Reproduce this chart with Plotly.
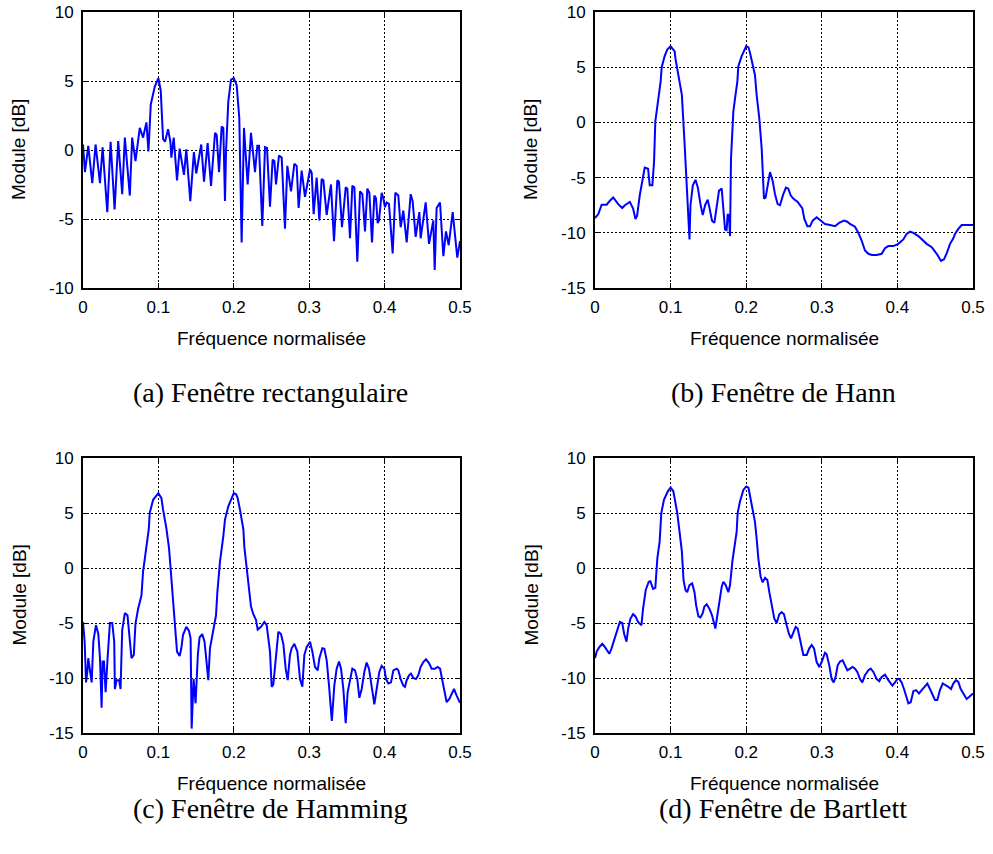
import plotly.graph_objects as go

# ---------------- data (normalised frequency, magnitude in dB) ----------------
freq_a = [0.0, 0.0026, 0.0070, 0.0123, 0.0167, 0.0225, 0.0260, 0.0322, 0.0366, 0.0419,
          0.0467, 0.0520, 0.0555, 0.0621, 0.0652, 0.0696, 0.0753, 0.0797, 0.0841, 0.0868,
          0.0899, 0.0952, 0.1000, 0.1031, 0.1062, 0.1088, 0.1128, 0.1159, 0.1172, 0.1203,
          0.1247, 0.1282, 0.1339, 0.1370, 0.1423, 0.1471, 0.1502, 0.1568, 0.1605, 0.1653,
          0.1698, 0.1751, 0.1773, 0.1804, 0.1839, 0.1861, 0.1883, 0.1897, 0.1927, 0.1963,
          0.2000, 0.2038, 0.2073, 0.2104, 0.2135, 0.2184, 0.2228, 0.2281, 0.2312, 0.2334,
          0.2378, 0.2414, 0.2440, 0.2480, 0.2515, 0.2538, 0.2560, 0.2599, 0.2635, 0.2679,
          0.2710, 0.2759, 0.2803, 0.2834, 0.2860, 0.2900, 0.2944, 0.3011, 0.3033, 0.3059,
          0.3099, 0.3135, 0.3165, 0.3188, 0.3232, 0.3289, 0.3329, 0.3373, 0.3395, 0.3435,
          0.3484, 0.3506, 0.3541, 0.3572, 0.3599, 0.3638, 0.3674, 0.3705, 0.3740, 0.3771,
          0.3798, 0.3833, 0.3864, 0.3886, 0.3908, 0.3926, 0.3961, 0.3983, 0.4005, 0.4027,
          0.4058, 0.4107, 0.4142, 0.4182, 0.4213, 0.4248, 0.4293, 0.4346, 0.4372, 0.4412,
          0.4461, 0.4478, 0.4545, 0.4589, 0.4646, 0.4664, 0.4690, 0.4735, 0.4779, 0.4814,
          0.4850, 0.4903, 0.4964, 0.5000]
db_a = [0.4, -1.6, 0.3, -2.4, 0.4, -2.4, 0.2, -4.5, 0.6, -4.3,
        0.65, -3.2, 0.9, -3.3, 0.9, -0.8, 1.6, 0.9, 2.0, -0.1,
        3.3, 4.6, 5.2, 4.3, 0.8, 0.6, 1.5, 0.6, -0.55, 0.9,
        -2.2, 0.1, -1.8, 0.05, -3.7, -0.15, -1.7, 0.4, -2.3, 0.5,
        -2.6, 1.25, 1.1, -1.6, 1.7, 1.6, -3.7, -0.1, 3.5, 5.1,
        5.2, 4.7, 2.3, -6.7, 1.6, -2.5, 1.25, -1.6, 0.3, 0.3,
        -5.5, 0.2, 0.15, -4.1, -0.7, -0.8, -2.5, -0.4, -0.55, -5.7,
        -1.15, -3.0, -1.0, -1.15, -4.2, -1.5, -3.4, -1.4, -1.65, -4.65,
        -2.0, -5.1, -2.1, -2.2, -4.7, -2.5, -6.6, -2.2, -2.3, -5.6,
        -2.7, -2.8, -6.4, -2.6, -2.7, -8.1, -3.0, -3.2, -5.9, -2.8,
        -3.1, -6.7, -3.3, -3.5, -5.3, -5.1, -3.1, -3.5, -4.15, -3.8,
        -3.9, -7.5, -3.1, -3.3, -5.6, -4.4, -6.7, -3.2, -3.7, -6.3,
        -4.5, -6.4, -3.8, -6.8, -5.1, -8.7, -4.2, -3.8, -7.7, -5.9,
        -6.9, -4.5, -7.8, -6.6]

freq_b = [0.0, 0.0044, 0.0088, 0.0154, 0.0197, 0.0241, 0.0263, 0.0307, 0.0360, 0.0395,
          0.0461, 0.0504, 0.0535, 0.0557, 0.0592, 0.0636, 0.0658, 0.0702, 0.0724, 0.0759,
          0.0781, 0.0798, 0.0833, 0.0868, 0.0882, 0.0921, 0.0956, 0.1000, 0.1022, 0.1053,
          0.1066, 0.1096, 0.1149, 0.1184, 0.1215, 0.1237, 0.1250, 0.1263, 0.1294, 0.1329,
          0.1360, 0.1395, 0.1425, 0.1456, 0.1491, 0.1513, 0.1548, 0.1579, 0.1609, 0.1640,
          0.1676, 0.1698, 0.1720, 0.1741, 0.1755, 0.1772, 0.1786, 0.1799, 0.1830, 0.1861,
          0.1883, 0.1896, 0.1940, 0.2000, 0.2030, 0.2050, 0.2072, 0.2116, 0.2138, 0.2173,
          0.2205, 0.2235, 0.2257, 0.2293, 0.2315, 0.2350, 0.2381, 0.2416, 0.2447, 0.2491,
          0.2526, 0.2557, 0.2588, 0.2623, 0.2681, 0.2743, 0.2769, 0.2809, 0.2844, 0.2879,
          0.2932, 0.2989, 0.3042, 0.3108, 0.3175, 0.3228, 0.3294, 0.3337, 0.3373, 0.3439,
          0.3483, 0.3527, 0.3571, 0.3616, 0.3660, 0.3726, 0.3792, 0.3836, 0.3880, 0.3946,
          0.4012, 0.4078, 0.4122, 0.4167, 0.4211, 0.4277, 0.4321, 0.4387, 0.4454, 0.4520,
          0.4577, 0.4616, 0.4656, 0.4696, 0.4740, 0.4762, 0.4806, 0.4850, 0.4916, 0.5000]
db_b = [-8.66, -8.3, -7.45, -7.45, -7.1, -6.8, -7.0, -7.4, -7.75, -7.5,
        -7.2, -7.8, -8.75, -8.45, -6.6, -4.65, -4.1, -4.2, -5.7, -5.7,
        -3.6, 0.1, 1.9, 3.7, 5.0, 6.0, 6.6, 6.9, 6.7, 6.45,
        5.7, 4.5, 2.5, -1.8, -6.0, -8.75, -10.6, -7.5, -5.7, -5.2,
        -5.9, -7.4, -8.4, -7.5, -7.0, -7.7, -8.9, -9.1, -7.5, -6.2,
        -6.0, -8.1, -9.7, -9.75, -8.3, -8.45, -10.3, -3.3, 1.0, 2.6,
        3.7, 5.1, 6.0, 6.9, 6.8, 6.3, 5.7, 4.3, 2.5, 0.4,
        -2.4, -6.9, -6.8, -5.4, -4.5, -5.3, -6.5, -7.4, -7.5, -6.5,
        -5.9, -6.0, -6.6, -6.9, -7.2, -7.8, -8.75, -9.4, -9.4, -8.9,
        -8.6, -8.9, -9.2, -9.3, -9.4, -9.1, -8.9, -9.0, -9.2, -9.45,
        -10.0, -10.7, -11.6, -11.9, -12.0, -12.0, -11.9, -11.4, -11.2, -11.2,
        -11.0, -10.6, -10.1, -9.9, -10.0, -10.3, -10.6, -11.0, -11.3, -11.9,
        -12.55, -12.4, -11.8, -11.0, -10.5, -10.1, -9.65, -9.3, -9.3, -9.3]

freq_c = [0.0, 0.0022, 0.0040, 0.0057, 0.0070, 0.0084, 0.0101, 0.0115, 0.0137, 0.0172,
          0.0203, 0.0225, 0.0247, 0.0260, 0.0278, 0.0300, 0.0326, 0.0357, 0.0388, 0.0414,
          0.0423, 0.0445, 0.0480, 0.0498, 0.0520, 0.0555, 0.0590, 0.0621, 0.0643, 0.0674,
          0.0696, 0.0731, 0.0775, 0.0797, 0.0833, 0.0872, 0.0885, 0.0930, 0.1000, 0.1040,
          0.1062, 0.1106, 0.1141, 0.1172, 0.1216, 0.1247, 0.1282, 0.1304, 0.1326, 0.1370,
          0.1405, 0.1427, 0.1441, 0.1467, 0.1493, 0.1524, 0.1546, 0.1581, 0.1612, 0.1640,
          0.1662, 0.1684, 0.1715, 0.1764, 0.1782, 0.1817, 0.1861, 0.1883, 0.1927, 0.2000,
          0.2030, 0.2051, 0.2082, 0.2127, 0.2140, 0.2184, 0.2228, 0.2259, 0.2294, 0.2317,
          0.2361, 0.2405, 0.2436, 0.2480, 0.2502, 0.2524, 0.2555, 0.2591, 0.2626, 0.2657,
          0.2688, 0.2715, 0.2745, 0.2767, 0.2803, 0.2843, 0.2878, 0.2909, 0.2936, 0.2966,
          0.3011, 0.3042, 0.3077, 0.3113, 0.3135, 0.3174, 0.3201, 0.3232, 0.3263, 0.3300,
          0.3333, 0.3364, 0.3395, 0.3422, 0.3453, 0.3484, 0.3510, 0.3541, 0.3572, 0.3607,
          0.3638, 0.3665, 0.3696, 0.3731, 0.3762, 0.3793, 0.3828, 0.3864, 0.3895, 0.3930,
          0.3961, 0.3997, 0.4019, 0.4050, 0.4085, 0.4116, 0.4160, 0.4182, 0.4213, 0.4248,
          0.4270, 0.4293, 0.4324, 0.4350, 0.4381, 0.4416, 0.4447, 0.4478, 0.4514, 0.4549,
          0.4589, 0.4624, 0.4668, 0.4704, 0.4735, 0.4770, 0.4801, 0.4823, 0.4859, 0.4890,
          0.4920, 0.4956, 0.5000]
db_c = [-4.9, -6.7, -10.4, -9.5, -8.2, -8.8, -9.6, -10.4, -6.7, -5.2,
        -6.0, -8.2, -12.7, -8.5, -8.5, -11.3, -8.2, -5.0, -5.0, -6.7,
        -11.0, -10.2, -10.2, -11.0, -5.65, -4.1, -4.3, -6.9, -8.2, -7.9,
        -5.05, -3.7, -2.5, -0.3, 1.8, 3.5, 5.0, 6.2, 6.8, 6.35,
        5.3, 3.6, 1.8, -0.9, -4.9, -7.6, -8.0, -7.3, -6.1, -5.35,
        -5.7, -6.4, -14.6, -10.1, -12.3, -7.8, -6.3, -6.0, -6.7, -8.8,
        -10.2, -7.3, -6.0, -4.3, -2.2, 0.6, 2.9, 4.4, 5.6, 6.8,
        6.7, 6.35, 5.3, 3.5, 1.9, -0.6, -3.5, -4.2, -4.7, -5.6,
        -5.35, -4.9, -5.2, -7.6, -10.8, -10.6, -8.1, -5.8, -6.0, -6.9,
        -9.15, -10.2, -7.9, -7.3, -6.9, -7.6, -10.1, -10.8, -7.9, -7.2,
        -6.7, -7.6, -9.0, -9.3, -8.2, -7.3, -7.35, -8.4, -10.7, -13.9,
        -10.7, -9.15, -8.5, -9.15, -11.0, -14.1, -11.3, -10.1, -9.15, -9.3,
        -10.1, -11.8, -11.0, -9.45, -8.6, -9.15, -10.8, -12.4, -11.0, -9.45,
        -8.9, -9.15, -10.1, -10.5, -10.4, -9.3, -9.15, -9.3, -10.1, -10.7,
        -10.8, -10.2, -9.75, -9.6, -10.0, -10.1, -9.75, -9.0, -8.55, -8.3,
        -8.65, -9.15, -9.15, -9.0, -9.15, -10.4, -11.3, -12.2, -11.9, -11.4,
        -11.0, -11.6, -12.25]

freq_d = [0.0, 0.0022, 0.0057, 0.0096, 0.0132, 0.0189, 0.0219, 0.0250, 0.0285, 0.0329,
          0.0360, 0.0386, 0.0417, 0.0439, 0.0469, 0.0504, 0.0535, 0.0570, 0.0614, 0.0636,
          0.0671, 0.0711, 0.0732, 0.0768, 0.0798, 0.0825, 0.0855, 0.0877, 0.0912, 0.0965,
          0.1000, 0.1035, 0.1053, 0.1088, 0.1118, 0.1149, 0.1171, 0.1197, 0.1219, 0.1250,
          0.1285, 0.1316, 0.1338, 0.1368, 0.1395, 0.1425, 0.1447, 0.1478, 0.1513, 0.1548,
          0.1592, 0.1623, 0.1645, 0.1676, 0.1698, 0.1728, 0.1764, 0.1786, 0.1817, 0.1852,
          0.1874, 0.1887, 0.1918, 0.1962, 0.2000, 0.2030, 0.2050, 0.2072, 0.2116, 0.2138,
          0.2160, 0.2191, 0.2218, 0.2249, 0.2280, 0.2306, 0.2337, 0.2372, 0.2403, 0.2438,
          0.2469, 0.2500, 0.2535, 0.2566, 0.2593, 0.2623, 0.2654, 0.2681, 0.2712, 0.2756,
          0.2800, 0.2835, 0.2866, 0.2897, 0.2932, 0.2967, 0.2998, 0.3042, 0.3064, 0.3099,
          0.3130, 0.3157, 0.3183, 0.3210, 0.3241, 0.3276, 0.3307, 0.3338, 0.3373, 0.3408,
          0.3439, 0.3470, 0.3505, 0.3536, 0.3571, 0.3616, 0.3647, 0.3682, 0.3726, 0.3761,
          0.3792, 0.3836, 0.3871, 0.3902, 0.3933, 0.3968, 0.3999, 0.4025, 0.4056, 0.4087,
          0.4114, 0.4145, 0.4176, 0.4211, 0.4246, 0.4286, 0.4321, 0.4365, 0.4396, 0.4431,
          0.4467, 0.4497, 0.4528, 0.4563, 0.4599, 0.4630, 0.4674, 0.4709, 0.4740, 0.4775,
          0.4806, 0.4837, 0.4872, 0.4916, 0.4951, 0.5000]
db_d = [-8.2, -7.6, -7.2, -6.9, -7.2, -7.8, -7.3, -6.6, -5.8, -4.9,
        -5.0, -6.0, -6.7, -5.5, -4.6, -4.2, -4.4, -4.9, -5.2, -3.7,
        -2.0, -1.25, -1.2, -1.9, -1.8, 0.9, 2.4, 5.0, 6.2, 7.0,
        7.3, 7.0, 6.35, 5.0, 3.3, 1.5, -1.1, -2.0, -2.2, -1.55,
        -1.4, -2.2, -3.4, -4.4, -4.5, -4.1, -3.5, -3.3, -3.7, -4.3,
        -5.5, -4.0, -3.0, -1.7, -1.25, -1.55, -2.2, -1.55, 0.6, 2.4,
        3.3, 5.0, 6.05, 7.1, 7.4, 7.3, 6.65, 5.75, 4.2, 2.7,
        0.9, -0.8, -1.3, -0.9, -1.1, -2.2, -3.5, -4.6, -5.0, -4.2,
        -4.0, -4.2, -5.2, -6.0, -6.4, -5.8, -5.35, -5.5, -6.4, -7.9,
        -7.9, -7.3, -7.0, -7.3, -8.55, -9.0, -8.55, -7.7, -7.85, -8.85,
        -10.1, -10.4, -9.9, -8.85, -8.5, -8.4, -8.85, -9.3, -9.15, -9.0,
        -9.15, -9.45, -10.1, -10.4, -9.75, -9.3, -9.15, -9.45, -10.1, -10.3,
        -9.9, -9.7, -10.1, -10.4, -10.7, -10.4, -10.1, -10.1, -10.4, -11.0,
        -11.6, -12.3, -12.2, -11.2, -11.1, -11.4, -11.1, -10.8, -10.5, -11.0,
        -11.6, -12.0, -12.0, -11.1, -10.5, -10.6, -10.8, -11.0, -10.5, -10.2,
        -10.35, -11.0, -11.4, -11.9, -11.7, -11.4]

x_ticks = [0, 0.1, 0.2, 0.3, 0.4, 0.5]
x_tick_text = ["0", "0.1", "0.2", "0.3", "0.4", "0.5"]
y_ticks_a = [-10, -5, 0, 5, 10]
y_ticks_bcd = [-15, -10, -5, 0, 5, 10]
captions = ["(a) Fenêtre rectangulaire", "(b) Fenêtre de Hann",
            "(c) Fenêtre de Hamming", "(d) Fenêtre de Bartlett"]
x_title = "Fréquence normalisée"
y_title = "Module [dB]"

# ---------------- layout geometry (pixels in a 993 x 854 canvas) ----------------
W, H = 993, 854
panels = [
    # (x0, x1, ytop, ybottom, freq, db, yrange, yticks)
    (83, 460, 12, 288, freq_a, db_a, [-10, 10], y_ticks_a),
    (595, 973, 12, 288, freq_b, db_b, [-15, 10], y_ticks_bcd),
    (83, 460, 458, 733, freq_c, db_c, [-15, 10], y_ticks_bcd),
    (595, 973, 458, 733, freq_d, db_d, [-15, 10], y_ticks_bcd),
]
caption_pos = [(270, 392), (783, 392), (270, 808), (783, 808)]

fig = go.Figure()
annotations = []
tick_font = dict(family="Liberation Sans, Arial", size=17, color="black")
label_font = dict(family="Liberation Sans, Arial", size=19, color="black")
cap_font = dict(family="Liberation Serif, Times New Roman", size=28, color="black")

for i, (x0, x1, yt, yb, fx, fy, yr, yt_vals) in enumerate(panels):
    n = "" if i == 0 else str(i + 1)
    fig.add_trace(go.Scatter(x=fx, y=fy, mode="lines",
                             line=dict(color="#0000ff", width=2),
                             xaxis="x" + n, yaxis="y" + n, showlegend=False,
                             hoverinfo="skip"))
    common = dict(showline=True, linecolor="black", linewidth=2, mirror="allticks",
                  ticks="inside", ticklen=5, tickcolor="black", tickwidth=1,
                  showgrid=True, gridcolor="black", griddash="2px,2px", gridwidth=1,
                  zeroline=False, tickfont=tick_font, automargin=False)
    fig.update_layout(**{
        "xaxis" + n: dict(domain=[x0 / W, x1 / W], range=[0, 0.5],
                          tickvals=x_ticks, ticktext=x_tick_text,
                          anchor="y" + n, ticklabelstandoff=3, **common),
        "yaxis" + n: dict(domain=[1 - yb / H, 1 - yt / H], range=yr,
                          tickvals=yt_vals, ticktext=[str(v) for v in yt_vals],
                          anchor="x" + n, ticklabelstandoff=4, **common),
    })
    annotations.append(dict(text=x_title, x=(x0 + x1) / 2 / W, y=1 - (yb + 50) / H,
                            xref="paper", yref="paper", showarrow=False,
                            font=label_font, xanchor="center", yanchor="middle"))
    annotations.append(dict(text=y_title, x=(x0 - 64) / W, y=1 - (yt + yb) / 2 / H,
                            xref="paper", yref="paper", showarrow=False, textangle=-90,
                            font=label_font, xanchor="center", yanchor="middle"))
    cx, cy = caption_pos[i]
    annotations.append(dict(text=captions[i], x=cx / W, y=1 - cy / H,
                            xref="paper", yref="paper", showarrow=False,
                            font=cap_font, xanchor="center", yanchor="middle"))

fig.update_layout(width=W, height=H, margin=dict(l=0, r=0, t=0, b=0),
                  paper_bgcolor="white", plot_bgcolor="white",
                  annotations=annotations)
fig.write_html("out.html")
